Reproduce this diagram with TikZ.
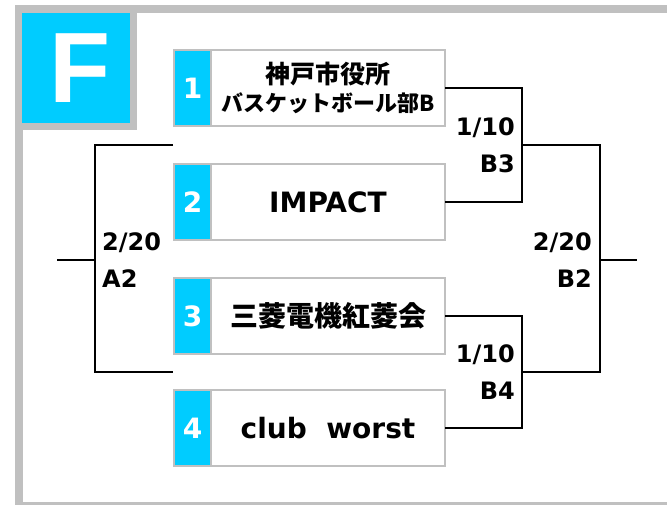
\documentclass[tikz,border=0pt]{standalone}
\usepackage{fontspec}
\setmainfont{DejaVu Sans}
\newfontfamily\jpfont{Noto Sans CJK JP Bold}
\newfontfamily\tagfont{Liberation Sans}
\usetikzlibrary{positioning}
\definecolor{seedcyan}{RGB}{0,204,255}
\definecolor{framegray}{RGB}{192,192,192}

\begin{document}
\begin{tikzpicture}[x=1pt, y=-1pt,
  numbox/.style = {draw=framegray, line width=2pt, fill=seedcyan, text=white, outer sep=0pt, inner sep=0pt,
    minimum width=37pt, minimum height=76pt, font=\fontsize{28}{28}\selectfont\bfseries},
  namebox/.style = {draw=framegray, line width=2pt, fill=white, outer sep=0pt, inner sep=0pt,
    minimum width=234pt, minimum height=76pt, align=center, font=\fontsize{28}{28}\selectfont\bfseries},
  bracket/.style = {line width=2pt},
  result/.style = {inner sep=0pt, font=\fontsize{24}{37}\selectfont\bfseries}]
  \useasboundingbox (0,0) rectangle (667,504);
  \clip (0,0) rectangle (667,504);
  \draw[framegray, line width=7.5pt] (18.75,505.75) -- (18.75,8.75) -- (690,8.75);
  \draw[framegray, line width=7.5pt] (18.75,505.75) -- (690,505.75);
  \node[draw=framegray, line width=7.5pt, fill=seedcyan, text=white, minimum width=115pt, minimum height=117pt,
    font=\tagfont\fontsize{100}{100}\selectfont\bfseries] (ftag) at (76,68) {\hspace*{9pt}F};

  \node[numbox] (seed1) at (192.5,88) {1};
  \node[namebox, right=0pt of seed1] (team1)
    {{\jpfont\fontsize{25}{35}\selectfont 神戸市役所}\\{\jpfont\fontsize{22}{35}\selectfont バスケットボール部B}};
  \node[numbox] (seed2) at (192.5,202) {2};
  \node[namebox, right=0pt of seed2] (team2) {IMPACT};
  \node[numbox] (seed3) at (192.5,316) {3};
  \node[namebox, right=0pt of seed3] (team3) {\jpfont\fontsize{28}{28}\selectfont 三菱電機紅菱会};
  \node[numbox] (seed4) at (192.5,428) {4};
  \node[namebox, right=0pt of seed4] (team4) {club\ \ worst};

  \coordinate (semi1) at (522,145);
  \coordinate (semi2) at (522,372);
  \coordinate (final) at (600,260);
  \coordinate (finalend) at (637,260);
  \coordinate (left1) at (173,145);
  \coordinate (left2) at (173,372);
  \coordinate (leftjoin) at (95,260);
  \coordinate (leftend) at (57,260);

  \draw[bracket] (team1.east) -| (semi1) |- (team2.east);
  \draw[bracket] (team3.east) -| (semi2) |- (team4.east);
  \draw[bracket] (semi1) -| (final) |- (semi2);
  \draw[bracket] (final) -- (finalend);
  \draw[bracket] (left1) -| (leftjoin) |- (left2);
  \draw[bracket] (leftjoin) -- (leftend);

  \node[result, left=7pt of semi1, align=right] (date1) {1/10\\B3};
  \node[result, left=7pt of semi2, align=right] (date2) {1/10\\B4};
  \node[result, left=8pt of final, align=right] (date3) {2/20\\B2};
  \node[result, right=7pt of leftjoin, align=left] (date4) {2/20\\A2};
\end{tikzpicture}
\end{document}
